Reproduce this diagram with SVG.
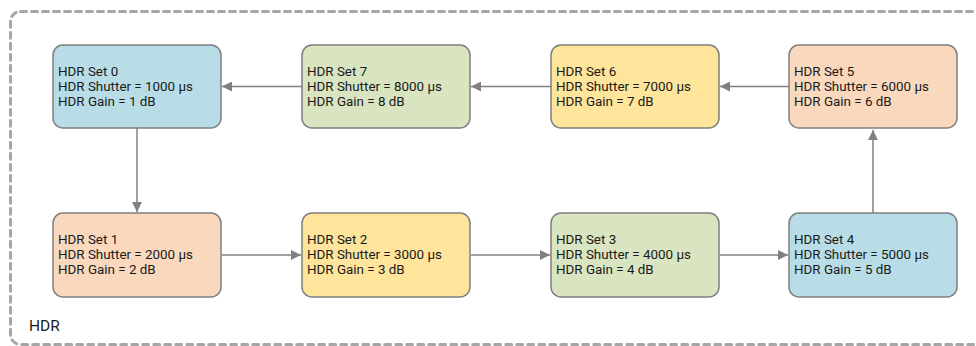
<svg xmlns="http://www.w3.org/2000/svg" width="976" height="346" viewBox="0 0 976 346">
<defs>
<marker id="arr" viewBox="0 0 10 10" refX="10" refY="5" markerWidth="10" markerHeight="10" markerUnits="userSpaceOnUse" orient="auto">
<path d="M0,0 L10,5 L0,10 z" fill="#808080"/>
</marker>
<style>
.box{stroke:#7f7f7f;stroke-width:1.5}
.blue{fill:#b8dde7}
.green{fill:#d9e4c0}
.yellow{fill:#fee59b}
.peach{fill:#f9d8bd}
text{font-family:Roboto,"Liberation Sans",sans-serif;font-size:13.4px;fill:#1a1a1a}
.lbl{font-size:15.5px}
.edge{stroke:#808080;stroke-width:1.5;fill:none;marker-end:url(#arr)}
</style>
</defs>
<rect x="10.5" y="11.5" width="990" height="333" rx="10" fill="none" stroke="#a6a6a6" stroke-width="3" stroke-dasharray="6,5" stroke-linecap="round"/>
<text class="lbl" x="29" y="331">HDR</text>
<g id="connectors">
<line class="edge" x1="302" y1="86.5" x2="222" y2="86.5"/>
<line class="edge" x1="551" y1="86.5" x2="471" y2="86.5"/>
<line class="edge" x1="789" y1="86.5" x2="720" y2="86.5"/>
<line class="edge" x1="137" y1="128" x2="137" y2="212"/>
<line class="edge" x1="222" y1="255" x2="301" y2="255"/>
<line class="edge" x1="471" y1="255" x2="550" y2="255"/>
<line class="edge" x1="720" y1="255" x2="788" y2="255"/>
<line class="edge" x1="873" y1="213" x2="873" y2="130"/>
</g>
<g id="n0"><rect class="box blue" x="53" y="45" width="168" height="83" rx="10"/>
<text x="58" y="75.5">HDR Set 0</text><text x="58" y="90.5">HDR Shutter = 1000 µs</text><text x="58" y="105.5">HDR Gain = 1 dB</text></g>
<g id="n7"><rect class="box green" x="302" y="45" width="168" height="83" rx="10"/>
<text x="307" y="75.5">HDR Set 7</text><text x="307" y="90.5">HDR Shutter = 8000 µs</text><text x="307" y="105.5">HDR Gain = 8 dB</text></g>
<g id="n6"><rect class="box yellow" x="551" y="45" width="168" height="83" rx="10"/>
<text x="556" y="75.5">HDR Set 6</text><text x="556" y="90.5">HDR Shutter = 7000 µs</text><text x="556" y="105.5">HDR Gain = 7 dB</text></g>
<g id="n5"><rect class="box peach" x="789" y="45" width="168" height="83" rx="10"/>
<text x="794" y="75.5">HDR Set 5</text><text x="794" y="90.5">HDR Shutter = 6000 µs</text><text x="794" y="105.5">HDR Gain = 6 dB</text></g>
<g id="n1"><rect class="box peach" x="53" y="213" width="168" height="84" rx="10"/>
<text x="58" y="243.5">HDR Set 1</text><text x="58" y="258.5">HDR Shutter = 2000 µs</text><text x="58" y="273.5">HDR Gain = 2 dB</text></g>
<g id="n2"><rect class="box yellow" x="302" y="213" width="168" height="84" rx="10"/>
<text x="307" y="243.5">HDR Set 2</text><text x="307" y="258.5">HDR Shutter = 3000 µs</text><text x="307" y="273.5">HDR Gain = 3 dB</text></g>
<g id="n3"><rect class="box green" x="551" y="213" width="168" height="84" rx="10"/>
<text x="556" y="243.5">HDR Set 3</text><text x="556" y="258.5">HDR Shutter = 4000 µs</text><text x="556" y="273.5">HDR Gain = 4 dB</text></g>
<g id="n4"><rect class="box blue" x="789" y="213" width="168" height="84" rx="10"/>
<text x="794" y="243.5">HDR Set 4</text><text x="794" y="258.5">HDR Shutter = 5000 µs</text><text x="794" y="273.5">HDR Gain = 5 dB</text></g>
</svg>
